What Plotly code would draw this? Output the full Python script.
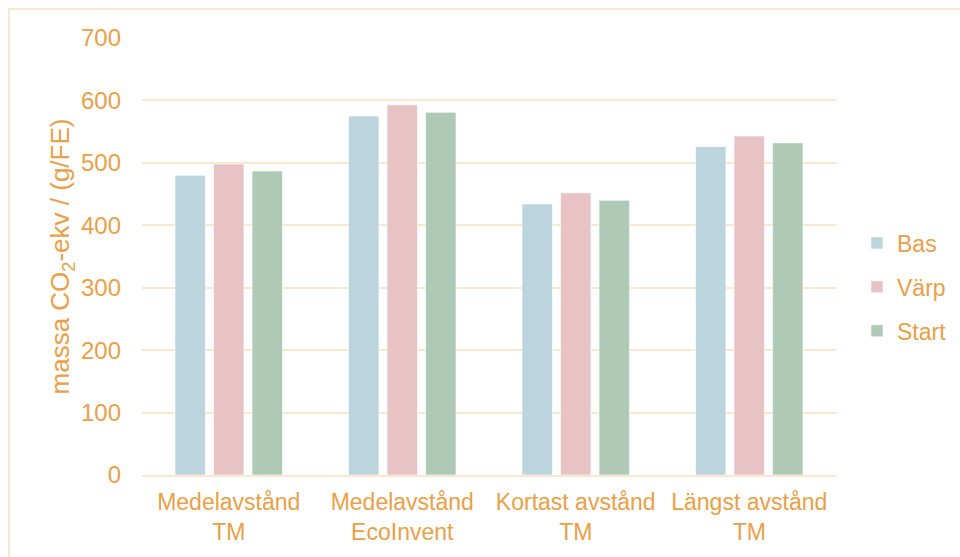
import plotly.graph_objects as go

categories = ["Medelavstånd<br>TM", "Medelavstånd<br>EcoInvent", "Kortast avstånd<br>TM", "Längst avstånd<br>TM"]
bas = [480, 575, 434, 526]
varp = [498, 593, 452, 543]
start = [487, 581, 440, 532]
series_names = ["Bas", "Värp", "Start"]
series_colors = ["#BBD4DD", "#E8C3C6", "#AECAB6"]
y_ticks = [0, 100, 200, 300, 400, 500, 600, 700]

TEXT = "#E9A048"
GRID = "#F9E7CF"
FONT = "Liberation Sans, Arial, sans-serif"

W, H = 960, 557
L, R, T, B = 142, 124, 38, 82

fig = go.Figure()
for name, vals, col in zip(series_names, [bas, varp, start], series_colors):
    fig.add_trace(go.Bar(
        x=categories, y=vals, name=name,
        marker=dict(color=col, line=dict(color="rgba(255,255,255,0.6)", width=1)),
        legendgroup=name,
    ))

pw = W - L - R
ph = H - T - B
def px_to_paper_x(px):
    return (px - L) / pw
def px_to_paper_y(py):
    return (H - B - py) / ph

# chart-area frame: only its left and top edges fall inside the page
fig.add_shape(type="line", xref="paper", yref="paper",
              x0=px_to_paper_x(9), x1=px_to_paper_x(9),
              y0=px_to_paper_y(H), y1=px_to_paper_y(8),
              line=dict(color=GRID, width=2), layer="below")
fig.add_shape(type="line", xref="paper", yref="paper",
              x0=px_to_paper_x(8), x1=px_to_paper_x(W),
              y0=px_to_paper_y(9), y1=px_to_paper_y(9),
              line=dict(color=GRID, width=2), layer="below")

fig.update_layout(
    width=W, height=H,
    margin=dict(l=L, r=R, t=T, b=B, pad=0, autoexpand=False),
    paper_bgcolor="white", plot_bgcolor="white",
    font=dict(family=FONT, size=23, color=TEXT),
    barmode="group", bargap=0.334, bargroupgap=0.21,
    showlegend=True,
    legend=dict(x=px_to_paper_x(857), y=px_to_paper_y(287), xanchor="left", yanchor="middle",
                font=dict(size=23, color=TEXT), tracegroupgap=11,
                itemwidth=30, bgcolor="rgba(0,0,0,0)"),
    xaxis=dict(showgrid=False, showline=True, linecolor=GRID, linewidth=2,
               ticks="", tickfont=dict(size=23, color=TEXT), zeroline=False,
               ticklabelstandoff=5),
    yaxis=dict(range=[0, 700], tickvals=y_ticks, showgrid=True, gridcolor=GRID,
               gridwidth=2, zeroline=False, showline=False, ticks="",
               tickfont=dict(size=24, color=TEXT), ticklabelstandoff=20,
               title=dict(text="massa CO<sub>2</sub>-ekv / (g/FE)",
                          font=dict(size=26, color=TEXT), standoff=3)),
)

fig.write_html("out.html")
